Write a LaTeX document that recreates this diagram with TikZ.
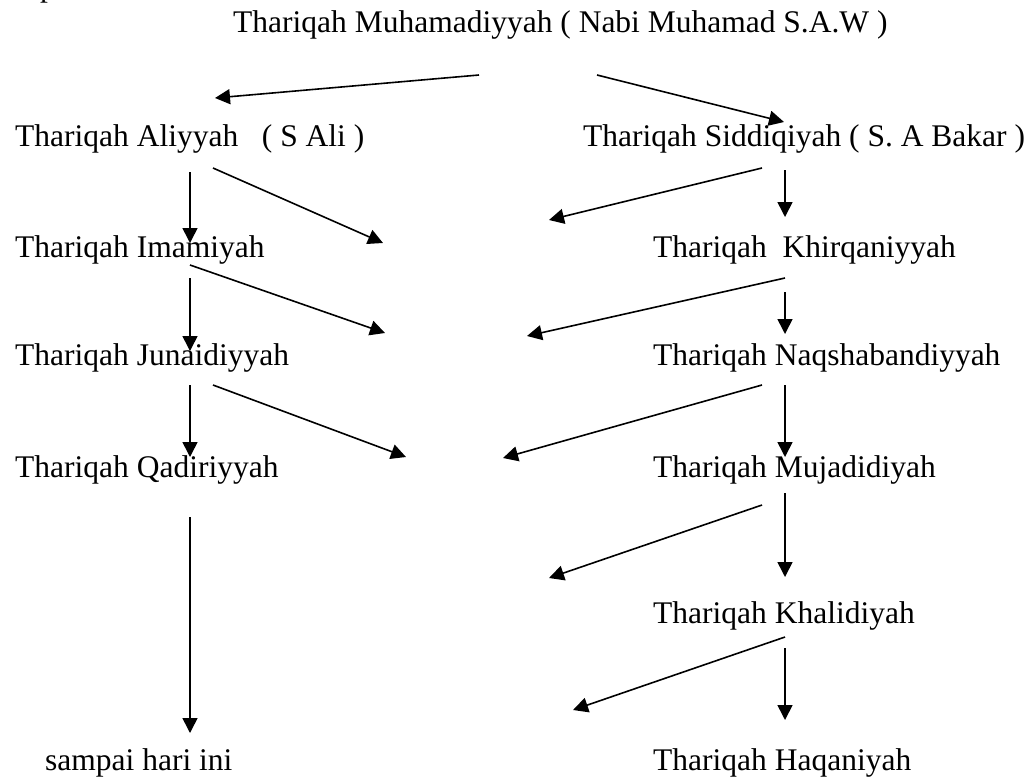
\documentclass[tikz,border=0pt]{standalone}
\usepackage{fontspec}
\setmainfont{Liberation Serif}
\usetikzlibrary{arrows.meta}
\tikzset{
  lbl/.style={anchor=base west, inner sep=0pt, font=\fontsize{31.5}{36}\selectfont},
  arr/.style={line width=1.6pt, -{Triangle[length=15pt,width=15pt]}}
}
\begin{document}
\begin{tikzpicture}[x=1pt,y=-1pt]
\useasboundingbox (0,0) rectangle (1032,776);
% clipped fragment at the top edge
\node[lbl] (frag) at (40,-3) {p};
% nodes
\node[lbl] (top) at (233,33) {Thariqah Muhamadiyyah ( Nabi Muhamad S.A.W )};
\node[lbl] (ali) at (15,146) {Thariqah Aliyyah\ \ \ ( S Ali )};
\node[lbl] (sid) at (583,146) {Thariqah Siddiqiyah ( S. A Bakar )};
\node[lbl] (ima) at (15,257) {Thariqah Imamiyah};
\node[lbl] (khi) at (653,257) {Thariqah\ \ Khirqaniyyah};
\node[lbl] (jun) at (15,365) {Thariqah Junaidiyyah};
\node[lbl] (naq) at (653,365) {Thariqah Naqshabandiyyah};
\node[lbl] (qad) at (15,477) {Thariqah Qadiriyyah};
\node[lbl] (muj) at (653,477) {Thariqah Mujadidiyah};
\node[lbl] (kha) at (653,623) {Thariqah Khalidiyah};
\node[lbl] (sam) at (45,770) {sampai hari ini};
\node[lbl] (haq) at (653,770) {Thariqah Haqaniyah};
% coordinates (start points and free ends)
\coordinate (t1) at (479,75);   \coordinate (e1) at (215,98);
\coordinate (t2) at (597,75);   \coordinate (e2) at (784,122);
\coordinate (a1) at (190,172);  \coordinate (ea1) at (190,243);
\coordinate (a2) at (213,168);  \coordinate (ea2) at (383,243);
\coordinate (i1) at (190,278);  \coordinate (ei1) at (190,351);
\coordinate (i2) at (190,265);  \coordinate (ei2) at (385,333);
\coordinate (j1) at (190,385);  \coordinate (ej1) at (190,457);
\coordinate (j2) at (213,385);  \coordinate (ej2) at (406,457);
\coordinate (q1) at (190,517);  \coordinate (eq1) at (190,733);
\coordinate (s1) at (785,170);  \coordinate (es1) at (785,217);
\coordinate (s2) at (762,168);  \coordinate (es2) at (549,220);
\coordinate (k1) at (785,292);  \coordinate (ek1) at (785,334);
\coordinate (k2) at (785,278);  \coordinate (ek2) at (527,336);
\coordinate (n1) at (785,385);  \coordinate (en1) at (785,457);
\coordinate (n2) at (762,385);  \coordinate (en2) at (503,458);
\coordinate (m1) at (785,493);  \coordinate (em1) at (785,577);
\coordinate (m2) at (762,505);  \coordinate (em2) at (549,578);
\coordinate (h1) at (785,648);  \coordinate (eh1) at (785,720);
\coordinate (h2) at (785,637);  \coordinate (eh2) at (573,710);
% connectors
\draw[arr] (t1) -- (e1);
\draw[arr] (t2) -- (e2);
\draw[arr] (a1) -- (ea1);
\draw[arr] (a2) -- (ea2);
\draw[arr] (i1) -- (ei1);
\draw[arr] (i2) -- (ei2);
\draw[arr] (j1) -- (ej1);
\draw[arr] (j2) -- (ej2);
\draw[arr] (q1) -- (eq1);
\draw[arr] (s1) -- (es1);
\draw[arr] (s2) -- (es2);
\draw[arr] (k1) -- (ek1);
\draw[arr] (k2) -- (ek2);
\draw[arr] (n1) -- (en1);
\draw[arr] (n2) -- (en2);
\draw[arr] (m1) -- (em1);
\draw[arr] (m2) -- (em2);
\draw[arr] (h1) -- (eh1);
\draw[arr] (h2) -- (eh2);
\end{tikzpicture}
\end{document}
